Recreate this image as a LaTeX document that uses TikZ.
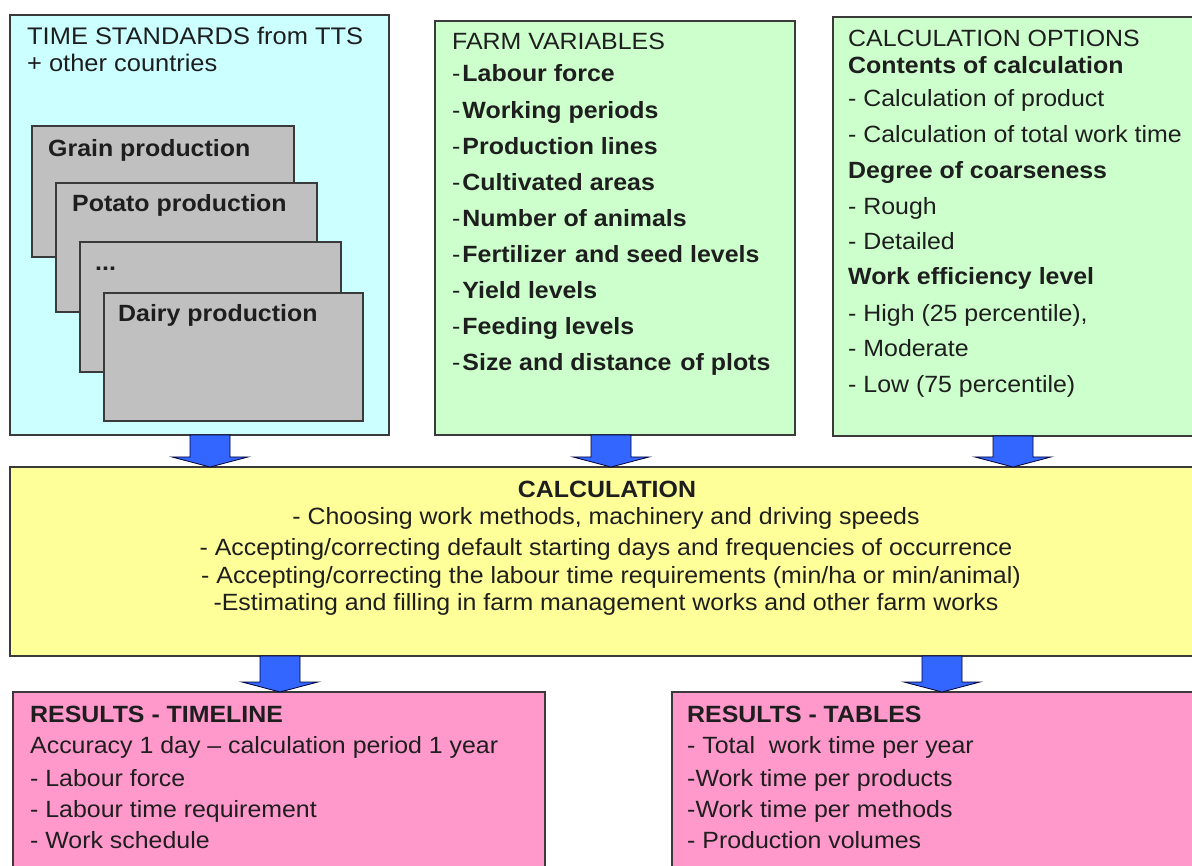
\documentclass[tikz,border=0pt]{standalone}
\usepackage{fontspec}
\setmainfont[FakeStretch=1.06]{Liberation Sans}
\usetikzlibrary{fit,calc}
\definecolor{cyanbg}{HTML}{CCFFFF}
\definecolor{greenbg}{HTML}{CCFFCC}
\definecolor{yellowbg}{HTML}{FFFF99}
\definecolor{pinkbg}{HTML}{FF99CC}
\definecolor{graybg}{HTML}{C0C0C0}
\definecolor{arrowblue}{HTML}{3366FF}
\definecolor{boxline}{HTML}{3A3A3A}
\definecolor{txt}{HTML}{1E1E1E}
\begin{document}
\begin{tikzpicture}[x=1pt,y=-1pt,
  box/.style={draw=boxline, line width=1.6pt, inner sep=0pt, outer sep=0pt},
  gbox/.style={box, fill=graybg, line width=1.4pt},
  lbl/.style={anchor=base west, inner sep=0pt, text=txt, font=\fontsize{23.5}{28}\selectfont},
  clbl/.style={anchor=base, inner sep=0pt, text=txt, font=\fontsize{23.5}{28}\selectfont},
  barrow/.style={fill=arrowblue, draw=black!80!blue, line width=0.8pt, line join=miter}]
\useasboundingbox (0,0) rectangle (1192,866);
\clip (0,0) rectangle (1192,866);
% --- top boxes
\node[box, fill=cyanbg, fit={(10,15) (389,435)}] (tts) {};
\node[box, fill=greenbg, fit={(435,21) (795,435)}] (farm) {};
\node[box, fill=greenbg, fit={(833,17) (1210,436)}] (opts) {};
% --- stacked gray boxes
\node[gbox, fit={(32,126) (294,257)}] (grain) {};
\node[gbox, fit={(56,183) (317,312)}] (potato) {};
\node[gbox, fit={(80,242) (341,372)}] (dots) {};
\node[gbox, fit={(104,293) (363,421)}] (dairy) {};
% --- middle and bottom boxes
\node[box, fill=yellowbg, fit={(10,467) (1210,656)}] (calc) {};
\node[box, fill=pinkbg, fit={(13,692) (545,890)}] (rtime) {};
\node[box, fill=pinkbg, fit={(672,692) (1210,890)}] (rtab) {};
% --- TTS texts
\node[lbl, font=\fontsize{24}{28}\selectfont] (ttst1) at (27,45) {TIME STANDARDS from TTS};
\node[lbl, font=\fontsize{24}{28}\selectfont] (ttst2) at (27,72) {+ other countries};
\node[lbl] (grainl) at (48,157) {\bfseries Grain production};
\node[lbl] (potatol) at (72,212) {\bfseries Potato production};
\node[lbl] (dotsl) at (95,271) {\bfseries ...};
\node[lbl] (dairyl) at (118,322) {\bfseries Dairy production};
% --- farm variables
\node[lbl] (farmt) at (452,50) {FARM VARIABLES};
\foreach \t [count=\i] in {Labour force, Working periods, Production lines, Cultivated areas,
  Number of animals, Fertilizer\hspace{2pt} and seed levels, Yield levels, Feeding levels,
  Size and distance\hspace{2pt} of plots}
  \node[lbl] (fv\i) at (452,{82+36.1*(\i-1)}) {-\hspace{2pt}\textbf{\t}};
% --- calculation options
\node[lbl] (optst) at (848,47) {CALCULATION OPTIONS};
\node[lbl] (o1) at (848,74) {\bfseries Contents of calculation};
\node[lbl] (o2) at (848,107) {- Calculation of product};
\node[lbl] (o3) at (848,143) {- Calculation of total work time};
\node[lbl] (o4) at (848,179) {\bfseries Degree of coarseness};
\node[lbl] (o5) at (848,215) {- Rough};
\node[lbl] (o6) at (848,250) {- Detailed};
\node[lbl] (o7) at (848,285) {\bfseries Work efficiency level};
\node[lbl] (o8) at (848,322) {- High (25 percentile),};
\node[lbl] (o9) at (848,357) {- Moderate};
\node[lbl] (o10) at (848,393) {- Low (75 percentile)};
% --- calculation
\node[clbl] (calct) at (607,497) {\bfseries CALCULATION};
\node[clbl] (c1) at (606,525) {- Choosing work methods, machinery and driving speeds};
\node[clbl] (c2) at (606,555) {- Accepting/correcting default starting days and frequencies of occurrence};
\node[clbl] (c3) at (611,583) {- Accepting/correcting the labour time requirements (min/ha or min/animal)};
\node[clbl] (c4) at (606,610) {-Estimating and filling in farm management works and other farm works};
% --- results timeline
\node[lbl] (rt0) at (30,722) {\bfseries RESULTS - TIMELINE};
\node[lbl] (rt1) at (30,753) {Accuracy 1 day -- calculation period 1 year};
\node[lbl] (rt2) at (30,786) {- Labour force};
\node[lbl] (rt3) at (30,817) {- Labour time requirement};
\node[lbl] (rt4) at (30,848) {- Work schedule};
% --- results tables
\node[lbl] (rb0) at (687,722) {\bfseries RESULTS - TABLES};
\node[lbl] (rb1) at (687,753) {- Total\ \ work time per year};
\node[lbl] (rb2) at (687,786) {-Work time per products};
\node[lbl] (rb3) at (687,817) {-Work time per methods};
\node[lbl] (rb4) at (687,848) {- Production volumes};
% --- block arrows
\foreach \x/\a/\b [count=\i] in {210/tts/calc, 611/farm/calc, 1013/opts/calc, 280/calc/rtime, 942/calc/rtab} {
  \coordinate (at\i) at (\x,0 |- \a.south);
  \coordinate (ab\i) at (\x,0 |- \b.north);
  \draw[barrow] ($(at\i)+(-20,0)$) -- ($(at\i)+(20,0)$) -- ($(ab\i)+(20,-10)$)
    -- ($(ab\i)+(38,-10)$) -- (ab\i) -- ($(ab\i)+(-38,-10)$) -- ($(ab\i)+(-20,-10)$) -- cycle;
}
\end{tikzpicture}
\end{document}
